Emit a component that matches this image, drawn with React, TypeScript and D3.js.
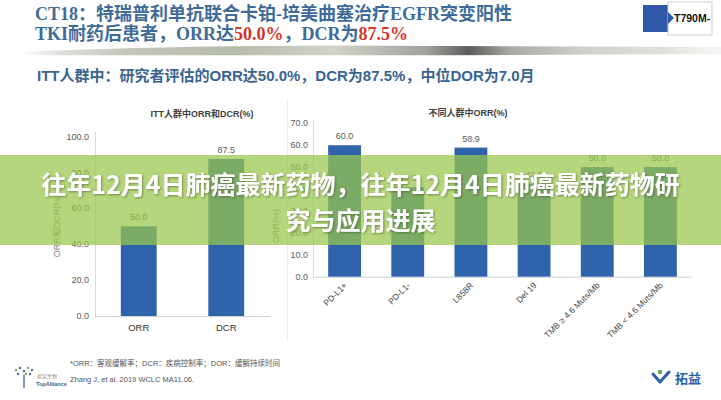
import React from "react";
import * as d3 from "d3";

const headerLine1 = "CT18：特瑞普利单抗联合卡铂-培美曲塞治疗EGFR突变阳性";
const subTitle = "ITT人群中：研究者评估的ORR达50.0%，DCR为87.5%，中位DOR为7.0月";
const bannerLine1 = "往年12月4日肺癌最新药物，往年12月4日肺癌最新药物研";
const bannerLine2 = "究与应用进展";

const leftTitle = "ITT人群中ORR和DCR(%)";
const leftCats = ["ORR", "DCR"];
const leftVals = [50.0, 87.5];
const leftTicks = [0, 20, 40, 60, 80, 100];

const rightTitle = "不同人群中ORR(%)";
const rightCats = ["PD-L1+", "PD-L1-", "L858R", "Del 19", "TMB ≥ 4.6 Muts/Mb", "TMB < 4.6 Muts/Mb"];
const rightVals = [60.0, 40.9, 58.9, 42.5, 50.0, 50.0];
const rightTicks = [0, 10, 20, 30, 40, 50, 60, 70];

const footNote = "*ORR：客观缓解率；DCR：疾病控制率；DOR：缓解持续时间";
const citation = "Zhang J, et al. 2019 WCLC MA11.06.";

const BLUE = "#2f64ad";
const SANS = "'Liberation Sans', Arial, 'Noto Sans CJK SC', sans-serif";
const SERIF = "'Liberation Serif', 'Times New Roman', 'Noto Sans CJK SC', serif";
const TICK = "#5a5a5a";

export default function App() {
  const yL = d3.scaleLinear().domain([0, 100]).range([316, 136.5]);
  const xL = d3.scaleBand<string>().domain(leftCats).range([95, 270]).paddingInner(0.59).paddingOuter(0.295);
  const yR = d3.scaleLinear().domain([0, 70]).range([276.7, 123.3]);
  const xR = d3.scaleBand<string>().domain(rightCats).range([313, 692]).paddingInner(0.48).paddingOuter(0.24);
  const fmt = d3.format(".1f");

  return (
    <svg width={721} height={400} style={{ position: "absolute", left: 0, top: 0, background: "#fff" }}>
      <defs>
        <linearGradient id="strip" x1="0" x2="1" y1="0" y2="0">
          <stop offset="0" stopColor="#ffffff" />
          <stop offset="0.06" stopColor="#d8d8d4" />
          <stop offset="0.15" stopColor="#b9bcb0" />
          <stop offset="0.3" stopColor="#a9b09a" />
          <stop offset="0.45" stopColor="#c9cbc0" />
          <stop offset="0.58" stopColor="#8e918a" />
          <stop offset="0.64" stopColor="#3e4040" />
          <stop offset="0.7" stopColor="#9a9c92" />
          <stop offset="0.8" stopColor="#c5c8bd" />
          <stop offset="0.92" stopColor="#dcdcd6" />
          <stop offset="1" stopColor="#f4f4f2" />
        </linearGradient>
        <filter id="shadow" x="-5%" y="-20%" width="110%" height="140%">
          <feDropShadow dx="1" dy="1" stdDeviation="1.2" floodColor="#3a4a20" floodOpacity="0.55" />
        </filter>
      </defs>

      {/* header */}
      <text x={35} y={20} fontFamily={SERIF} fontWeight="bold" fontSize={18} fill="#3f6b98">{headerLine1}</text>
      <text x={35} y={40} fontFamily={SERIF} fontWeight="bold" fontSize={18} fill="#3f6b98">
        <tspan>TKI耐药后患者，ORR达</tspan>
        <tspan fill="#d4372c">50.0%</tspan>
        <tspan>，DCR为</tspan>
        <tspan fill="#d4372c">87.5%</tspan>
      </text>
      <path d="M20,52 Q200,44 430,46 L721,47 L721,54 Q400,56 20,55 Z" fill="url(#strip)" opacity={0.85} />

      {/* T790M box */}
      <rect x={643} y={5} width={30} height={27} fill="#2f58a8" />
      <rect x={668} y={2} width={44} height={33} fill="#fff" stroke="#cfcfcf" strokeWidth={1} />
      <path d="M668,12 L674,18 L668,24 Z" fill="#2f58a8" />
      <text x={674} y={22} fontFamily={SANS} fontWeight="bold" fontSize={10.5} fill="#111">T790M-</text>

      {/* subtitle */}
      <text x={37} y={80.5} fontFamily={SANS} fontWeight="bold" fontSize={15} fill="#38648f">{subTitle}</text>

      {/* separator */}
      <line x1={287.5} x2={287.5} y1={100} y2={340} stroke="#ececec" />

      {/* left chart */}
      <text x={202} y={117} textAnchor="middle" fontFamily={SANS} fontWeight="bold" fontSize={9} fill="#404040">{leftTitle}</text>
      <line x1={95.5} x2={95.5} y1={132} y2={316} stroke="#dadada" />
      <line x1={95} x2={270} y1={316.5} y2={316.5} stroke="#d0d0d0" />
      {leftTicks.map((t) => (
        <text key={t} x={89} y={yL(t)} dy="0.35em" textAnchor="end" fontFamily={SANS} fontSize={9} fill={TICK}>{fmt(t)}</text>
      ))}
      <text transform={`translate(57,226) rotate(-90)`} textAnchor="middle" dy="0.35em" fontFamily={SANS} fontSize={9} fill="#808080">ORR和DCR(%)</text>
      {leftCats.map((c, i) => (
        <g key={c}>
          <rect x={xL(c)} y={yL(leftVals[i])} width={xL.bandwidth()} height={yL(0) - yL(leftVals[i])} fill={BLUE} />
          <text x={xL(c)! + xL.bandwidth() / 2} y={yL(leftVals[i]) - 9} dy="0.35em" textAnchor="middle" fontFamily={SANS} fontSize={9} fill={TICK}>{fmt(leftVals[i])}</text>
          <text x={xL(c)! + xL.bandwidth() / 2} y={328} dy="0.35em" textAnchor="middle" fontFamily={SANS} fontSize={9.5} fill="#333">{c}</text>
        </g>
      ))}

      {/* right chart */}
      <text x={468} y={116} textAnchor="middle" fontFamily={SANS} fontWeight="bold" fontSize={9} fill="#404040">{rightTitle}</text>
      <line x1={313.5} x2={313.5} y1={120} y2={277} stroke="#dadada" />
      <line x1={313} x2={692} y1={277.2} y2={277.2} stroke="#d0d0d0" />
      {rightTicks.map((t) => (
        <text key={t} x={308} y={yR(t)} dy="0.35em" textAnchor="end" fontFamily={SANS} fontSize={9} fill={TICK}>{fmt(t)}</text>
      ))}
      <text transform={`translate(276,226) rotate(-90)`} textAnchor="middle" dy="0.35em" fontFamily={SANS} fontSize={9} fill="#808080">ORR(%)</text>
      {rightCats.map((c, i) => {
        const cx = xR(c)! + xR.bandwidth() / 2;
        return (
          <g key={c}>
            <rect x={xR(c)} y={yR(rightVals[i])} width={xR.bandwidth()} height={yR(0) - yR(rightVals[i])} fill={BLUE} />
            <text x={cx} y={yR(rightVals[i]) - 9} dy="0.35em" textAnchor="middle" fontFamily={SANS} fontSize={9} fill={TICK}>{fmt(rightVals[i])}</text>
            <text transform={`translate(${cx + 3},286) rotate(-45)`} textAnchor="end" fontFamily={SANS} fontSize={8.5} fill="#444">{c}</text>
          </g>
        );
      })}

      {/* footer */}
      <text x={70} y={366} fontFamily={SANS} fontSize={7.5} fill="#555">{footNote}</text>
      <text x={70} y={382} fontFamily={SANS} fontSize={7.5} fill="#555">{citation}</text>
      <g>
        {[[16, 370], [20, 368], [24, 371], [28, 368], [32, 370], [18, 374], [26, 374], [30, 374]].map(([x, y], i) => (
          <circle key={i} cx={x} cy={y} r={1.2} fill={i % 3 === 0 ? "#7aa35a" : "#4a6e9e"} />
        ))}
        <line x1={24} x2={24} y1={375} y2={388} stroke="#4a6e9e" strokeWidth={1.4} />
        <text x={37} y={378} fontFamily={"'Noto Sans CJK SC', serif"} fontSize={5} fill="#8a8a8a">君实生物</text>
        <text x={36} y={386} fontFamily={SANS} fontWeight="bold" fontSize={5.5} fill="#3c5f93">TopAlliance</text>
      </g>
      <g>
        <path d="M653,374 L660,382 L669,372" fill="none" stroke="#2d5fa8" strokeWidth={3} strokeLinecap="round" strokeLinejoin="round" />
        <circle cx={660} cy={372} r={2.3} fill="#5fb048" />
        <text x={675} y={383} fontFamily={"'Noto Sans CJK SC', sans-serif"} fontWeight="bold" fontSize={13} fill="#2d5fa8">拓益</text>
      </g>

      {/* banner overlay */}
      <rect x={0} y={155} width={721} height={90} fill="rgb(152,198,73)" opacity={0.72} />
      <g filter="url(#shadow)" fontFamily={"'Noto Sans CJK SC', sans-serif"} fontWeight="bold" fontSize={25} fill="#fff" textAnchor="middle">
        <text x={360.5} y={194}>{bannerLine1}</text>
        <text x={360.5} y={230}>{bannerLine2}</text>
      </g>
    </svg>
  );
}
